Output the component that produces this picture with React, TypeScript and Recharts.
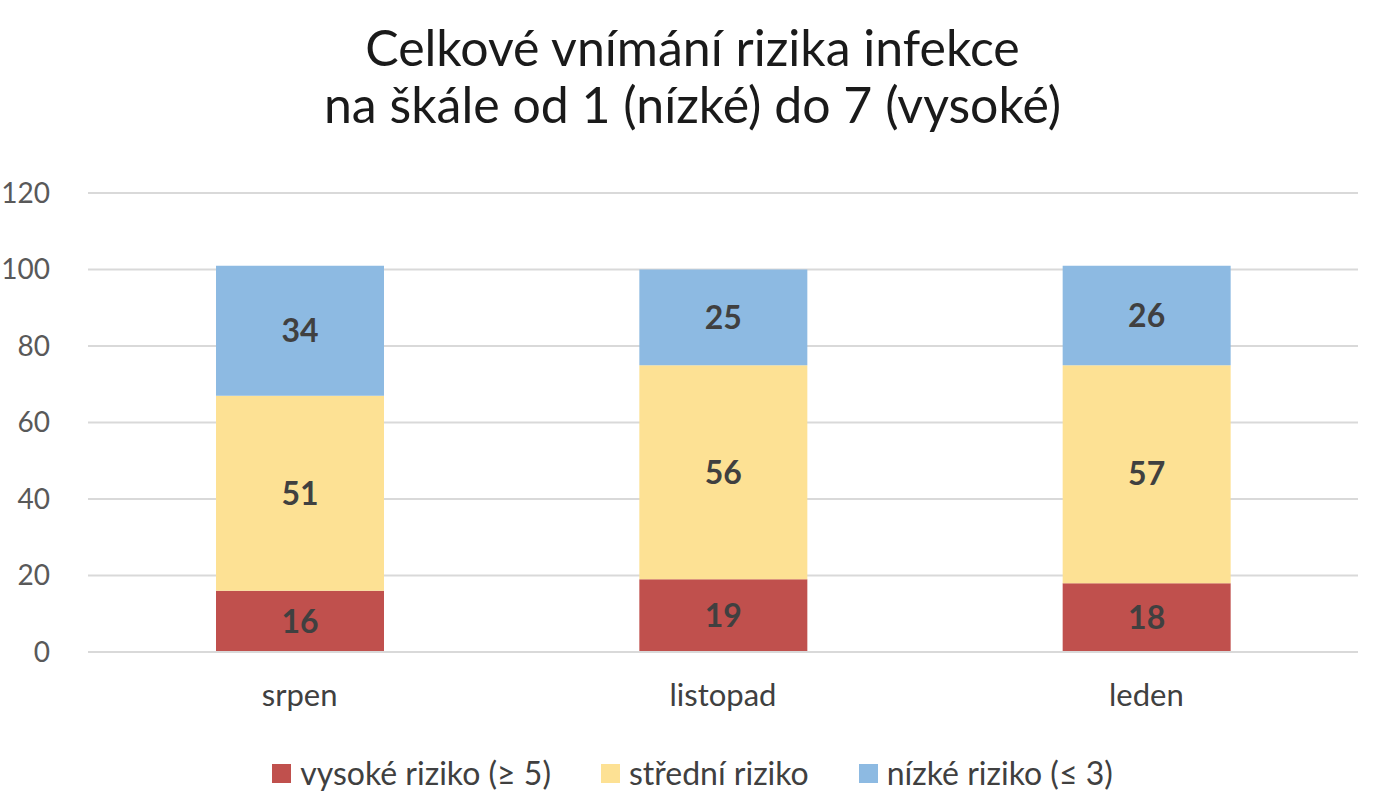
import React from 'react';
import { BarChart, Bar, XAxis, YAxis, CartesianGrid, LabelList } from 'recharts';

const months = ['srpen', 'listopad', 'leden'];
const highRisk = [16, 19, 18];
const midRisk = [51, 56, 57];
const lowRisk = [34, 25, 26];
const yTicks = [0, 20, 40, 60, 80, 100, 120];

const seriesNames = ['vysoké riziko (≥ 5)', 'střední riziko', 'nízké riziko (≤ 3)'];
const seriesColors = ['#C0504D', '#FDE194', '#8DBAE2'];

const data = months.map((m, i) => ({
  month: m,
  high: highRisk[i],
  mid: midRisk[i],
  low: lowRisk[i],
}));

const FONT = 'Lato, "Open Sans", sans-serif';

const App: React.FC = () => {
  const keys = ['high', 'mid', 'low'];
  return (
    <div style={{ position: 'fixed', top: 0, left: 0, width: 1385, height: 800, background: '#fff', fontFamily: FONT }}>
      <div
        style={{
          position: 'absolute',
          top: 19,
          left: 0,
          width: 1385,
          textAlign: 'center',
          fontSize: 50,
          lineHeight: '57px',
          color: '#1a1a1a',
        }}
      >
        <div>Celkové vnímání rizika infekce</div>
        <div>na škále od 1 (nízké) do 7 (vysoké)</div>
      </div>
      <BarChart
        width={1385}
        height={800}
        data={data}
        margin={{ top: 193, right: 27, bottom: 88, left: 0 }}
        barSize={168}
      >
        <CartesianGrid vertical={false} stroke="#D9D9D9" strokeWidth={2} />
        <XAxis
          dataKey="month"
          axisLine={{ stroke: '#D9D9D9', strokeWidth: 2 }}
          tickLine={false}
          height={60}
          tick={{ fill: '#404040', fontSize: 31, fontFamily: FONT }}
          tickMargin={26}
        />
        <YAxis
          domain={[0, 120]}
          ticks={yTicks}
          width={88}
          axisLine={false}
          tickLine={false}
          tick={{ fill: '#595959', fontSize: 28, fontFamily: FONT }}
          tickMargin={32}
        />
        {keys.map((k, i) => (
          <Bar key={k} dataKey={k} stackId="a" fill={seriesColors[i]} name={seriesNames[i]} isAnimationActive={false}>
            <LabelList
              dataKey={k}
              position="center"
              fill="#404040"
              fontSize={32}
              fontWeight="bold"
              fontFamily={FONT}
            />
          </Bar>
        ))}
      </BarChart>
      <div
        style={{
          position: 'absolute',
          top: 753,
          left: 0,
          width: 1385,
          display: 'flex',
          justifyContent: 'center',
          gap: 50,
          fontSize: 32,
          lineHeight: '40px',
          color: '#404040',
        }}
      >
        {seriesNames.map((n, i) => (
          <div key={n} style={{ display: 'flex', alignItems: 'center', gap: 9 }}>
            <span style={{ display: 'inline-block', width: 19, height: 19, background: seriesColors[i] }} />
            <span>{n}</span>
          </div>
        ))}
      </div>
    </div>
  );
};

export default App;
